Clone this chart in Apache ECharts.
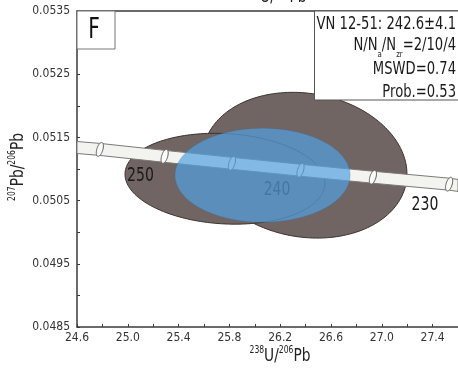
<!DOCTYPE html>
<html>
<head>
<meta charset="utf-8">
<script src="https://cdn.jsdelivr.net/npm/echarts@6/dist/echarts.min.js"></script>
<style>
html,body{margin:0;padding:0;background:#fff;}
#c{width:458px;height:368px;}
</style>
</head>
<body>
<div id="c"></div>
<script>
// ---- data ----
const xTicks = [24.6, 25.0, 25.4, 25.8, 26.2, 26.6, 27.0, 27.4];
const yTicks = [0.0485, 0.0495, 0.0505, 0.0515, 0.0525, 0.0535];

// concordia band centre line (238U/206Pb, 207Pb/206Pb)
const curveX = [24.6, 24.78, 25.29, 25.82, 26.36, 26.93, 27.53, 27.6];
const curveY = [0.05134, 0.05131, 0.05120, 0.05109, 0.05098, 0.05087, 0.05076, 0.05074];

// age markers on the concordia (Ma)
const tickAges = [255, 250, 245, 240, 235, 230];
const tickX = [24.78, 25.29, 25.82, 26.36, 26.93, 27.53];
const tickY = [0.05131, 0.05120, 0.05109, 0.05098, 0.05087, 0.05076];

// age labels
const ageLabels = ['250', '240', '230'];
const ageLabelX = [25.10, 26.175, 27.34];
const ageLabelY = [0.05090, 0.050664, 0.050435];

// error ellipses: centre, half-width, half-height, correlation
const ellNames = ['analysis 1', 'analysis 2', 'concordia age'];
const ellCx = [26.395, 25.765, 26.061];
const ellCy = [0.05106, 0.050846, 0.050901];
const ellSx = [0.803, 0.787, 0.689];
const ellSy = [0.001153, 0.000719, 0.000743];
const ellRho = [-0.12, -0.10, 0.0];

// result text
const panelLetter = 'F';
const sampleLine = 'VN 12-51: 242.6±4.1';
const nCounts = '2/10/4';
const mswd = '0.74';
const prob = '0.53';

// ---- styling ----
const FONT = "'DejaVu Sans Condensed', 'DejaVu Sans', sans-serif";
const AX = '#3a3a3a';
const TXT = '#1a1a1a';
const bandHalf = 0.000095;

function ellipseRender(i, fill, stroke, lw) {
  return function (params, api) {
    const pts = [];
    const r = ellRho[i];
    const q = Math.sqrt(1 - r * r);
    for (let k = 0; k <= 180; k++) {
      const t = 2 * Math.PI * k / 180;
      const x = ellCx[i] + ellSx[i] * Math.cos(t);
      const y = ellCy[i] + ellSy[i] * (r * Math.cos(t) + q * Math.sin(t));
      pts.push(api.coord([x, y]));
    }
    return {type: 'polygon', shape: {points: pts}, style: {fill: fill, stroke: stroke, lineWidth: lw}};
  };
}

function bandRender(params, api) {
  const up = [], lo = [];
  for (let k = 0; k < curveX.length; k++) {
    up.push(api.coord([curveX[k], curveY[k] + bandHalf]));
    lo.push(api.coord([curveX[k], curveY[k] - bandHalf]));
  }
  const pts = up.concat(lo.reverse());
  return {type: 'polygon', shape: {points: pts}, style: {fill: '#f3f3ef', stroke: '#7a7a76', lineWidth: 1}};
}

function tickRender(params, api) {
  const p = api.coord([api.value(0), api.value(1)]);
  const pts = [];
  const a = 0.3; // tilt (top leaning right)
  for (let k = 0; k <= 40; k++) {
    const t = 2 * Math.PI * k / 40;
    const ex = 3.0 * Math.cos(t), ey = 7.2 * Math.sin(t);
    pts.push([p[0] + ex * Math.cos(a) - ey * Math.sin(a), p[1] + ex * Math.sin(a) + ey * Math.cos(a)]);
  }
  return {type: 'polygon', shape: {points: pts}, style: {fill: '#fbfbf9', stroke: '#5e5e5b', lineWidth: 1}};
}

function labelRender(params, api) {
  const p = api.coord([api.value(0), api.value(1)]);
  return {type: 'text', x: p[0], y: p[1], scaleX: 0.78,
    style: {text: ageLabels[params.dataIndex], font: '20px ' + FONT, fill: TXT, align: 'center', verticalAlign: 'middle'}};
}

const nameRich = {
  s: {font: '10px ' + FONT, fill: '#222', lineHeight: 20, verticalAlign: 'top'},
  n: {font: '18px ' + FONT, fill: '#222', lineHeight: 20, verticalAlign: 'bottom'}
};

const chart = echarts.init(document.getElementById('c'), null, {renderer: 'canvas'});
chart.setOption({
  animation: false,
  backgroundColor: '#fff',
  grid: {left: 77, right: 0, top: 11, bottom: 41, show: false, containLabel: false, outerBoundsMode: 'none'},
  xAxis: [{
    type: 'value', min: xTicks[0], max: 27.6, interval: 0.4,
    axisLine: {show: true, lineStyle: {color: AX, width: 1.5}},
    axisTick: {show: true, inside: true, length: 3, lineStyle: {color: AX}},
    minorTick: {show: true, splitNumber: 2, length: 3, lineStyle: {color: AX}},
    splitLine: {show: false}, minorSplitLine: {show: false},
    axisLabel: {margin: 5, fontSize: 12, fontFamily: FONT, color: '#333',
      showMaxLabel: false, formatter: v => v.toFixed(1)}
  }, {
    type: 'value', position: 'top', min: xTicks[0], max: 27.6,
    axisLine: {show: true, lineStyle: {color: AX, width: 1.5}},
    axisTick: {show: false}, axisLabel: {show: false}, splitLine: {show: false}
  }],
  yAxis: {
    type: 'value', min: yTicks[0], max: yTicks[yTicks.length - 1], interval: 0.001,
    axisLine: {show: true, lineStyle: {color: AX, width: 1.5}},
    axisTick: {show: true, inside: true, length: 3, lineStyle: {color: AX}},
    minorTick: {show: true, splitNumber: 2, length: 3, lineStyle: {color: AX}},
    splitLine: {show: false}, minorSplitLine: {show: false},
    axisLabel: {margin: 7, fontSize: 12, fontFamily: FONT, color: '#333', formatter: v => v.toFixed(4)}
  },
  series: [
    {type: 'custom', name: ellNames[0], z: 1, data: [[ellCx[0], ellCy[0]]], renderItem: ellipseRender(0, '#706563', '#3b3331', 1), clip: true},
    {type: 'custom', name: ellNames[1], z: 2, data: [[ellCx[1], ellCy[1]]], renderItem: ellipseRender(1, '#706563', '#3b3331', 1), clip: true},
    {type: 'custom', name: 'concordia', z: 3, data: [[curveX[0], curveY[0]]], renderItem: bandRender, clip: true},
    {type: 'custom', name: 'age ticks', z: 4, data: tickX.map((x, i) => [x, tickY[i], tickAges[i]]), renderItem: tickRender, clip: true},
    {type: 'custom', name: 'age labels', z: 5, data: ageLabelX.map((x, i) => [x, ageLabelY[i]]), renderItem: labelRender},
    {type: 'custom', name: ellNames[2], z: 6, data: [[ellCx[2], ellCy[2]]], renderItem: ellipseRender(2, 'rgba(82,160,225,0.7)', 'rgba(50,100,150,0.3)', 0.8), clip: true}
  ],
  graphic: [
    // axis titles
    {type: 'text', z: 90, x: 280, y: 355, scaleX: 0.85, style: {
      text: '{s|238}{n|U/}{s|206}{n|Pb}', align: 'center', verticalAlign: 'middle', rich: nameRich}},
    {type: 'text', z: 90, x: 17, y: 167, rotation: Math.PI / 2, scaleX: 0.85, style: {
      text: '{s|207}{n|Pb/}{s|206}{n|Pb}', align: 'center', verticalAlign: 'middle', rich: nameRich}},
    {type: 'text', z: 90, x: 276, y: -4, scaleX: 0.85, style: {
      text: '{s|238}{n|U/}{s|206}{n|Pb}', align: 'center', verticalAlign: 'middle', rich: nameRich}},
    // panel letter
    {type: 'rect', z: 100, shape: {x: 77, y: 11, width: 38, height: 38}, style: {fill: '#fff', stroke: '#777', lineWidth: 1}},
    {type: 'text', z: 101, x: 94, y: 31, scaleX: 0.8, style: {text: panelLetter, font: '28px ' + FONT, fill: '#111', align: 'center', verticalAlign: 'middle'}},
    // result box
    {type: 'rect', z: 100, shape: {x: 314.5, y: 11, width: 150, height: 89}, style: {fill: '#fff', stroke: '#555', lineWidth: 1}},
    {type: 'text', z: 101, x: 456, y: 24.5, scaleX: 0.86, style: {text: sampleLine, font: '17px ' + FONT, fill: TXT, align: 'right', verticalAlign: 'middle'}},
    {type: 'text', z: 101, x: 456, y: 48, scaleX: 0.86, style: {
      text: '{n|N/N}{s|a}{n|/N}{s|zr}{n|=' + nCounts + '}', align: 'right', verticalAlign: 'middle',
      rich: {n: {font: '17px ' + FONT, fill: TXT, lineHeight: 22, verticalAlign: 'top'},
             s: {font: '9px ' + FONT, fill: TXT, lineHeight: 22, verticalAlign: 'bottom'}}}},
    {type: 'text', z: 101, x: 456, y: 70, scaleX: 0.86, style: {text: 'MSWD=' + mswd, font: '17px ' + FONT, fill: TXT, align: 'right', verticalAlign: 'middle'}},
    {type: 'text', z: 101, x: 456, y: 93, scaleX: 0.86, style: {text: 'Prob.=' + prob, font: '17px ' + FONT, fill: TXT, align: 'right', verticalAlign: 'middle'}}
  ]
});
</script>
</body>
</html>
